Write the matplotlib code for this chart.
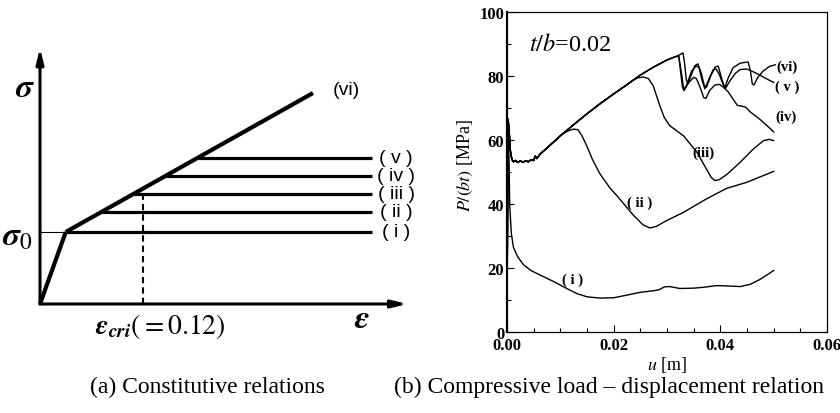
import numpy as np
import matplotlib
matplotlib.use("Agg")
import matplotlib.pyplot as plt

plt.rcParams['font.family'] = ['Liberation Serif', 'DejaVu Serif']
plt.rcParams['mathtext.fontset'] = 'stix'

# ---- (a) constitutive relations (schematic units: sigma / sigma0) ----
eps_y = 0.030
eps_cri = 0.12
eps_hard_end = 0.318
sig_hard_end = 2.93
eps_plateau_end = 0.387
plateau_sig = [1.0, 1.28, 1.53, 1.78, 2.03]
plateau_lbl = ['( i )', '( ii )', '( iii )', '( iv )', '( v )']

# ---- (b) compressive load - displacement, t/b = 0.02 ----
u_common = [0.0, 0.0001, 0.0002, 0.0004, 0.0006, 0.0009, 0.0012, 0.0016, 0.0020, 0.0025,
            0.0030, 0.0035, 0.0040, 0.0045, 0.0050, 0.0053, 0.0056, 0.0062, 0.0075, 0.0100]
p_common = [0.0, 40.0, 66.5, 63.0, 57.0, 54.0, 53.2, 53.6, 53.0, 53.5,
            53.0, 53.5, 53.2, 53.8, 53.6, 55.0, 54.2, 55.6, 57.5, 61.3]
u_rise = [0.0125, 0.0150, 0.0175, 0.0200, 0.0225, 0.0235, 0.0250, 0.0275, 0.0300, 0.0315]
p_rise = [64.8, 68.2, 71.4, 74.4, 77.3, 78.5, 80.3, 82.8, 85.0, 86.0]

u_1 = [0.0, 0.0002, 0.0004, 0.0005, 0.0008, 0.0012, 0.0020, 0.0031, 0.0045, 0.0062, 0.0087,
       0.0112, 0.0131, 0.0150, 0.0174, 0.0200, 0.0224, 0.0250, 0.0275, 0.0285, 0.0295,
       0.0305, 0.0324, 0.0350, 0.0370, 0.0393, 0.0412, 0.0437, 0.0456, 0.0474, 0.0500]
p_1 = [0.0, 66.0, 52.0, 40.0, 31.0, 26.5, 23.5, 21.0, 19.2, 17.8, 15.8,
       13.6, 12.0, 11.0, 10.6, 10.7, 11.5, 12.4, 12.9, 13.2, 14.1,
       14.2, 13.6, 13.7, 14.0, 14.5, 14.4, 14.2, 14.9, 16.4, 19.2]

u_2 = [0.0105, 0.0115, 0.0125, 0.0133, 0.0140, 0.0150, 0.0160, 0.0174, 0.0193, 0.0206,
       0.0237, 0.0255, 0.0268, 0.0280, 0.0299, 0.0331, 0.0374, 0.0412, 0.0450, 0.0500]
p_2 = [62.0, 62.9, 63.4, 63.2, 61.5, 58.0, 54.0, 49.5, 45.0, 42.6,
       36.5, 33.5, 32.5, 33.0, 34.8, 37.4, 41.6, 44.9, 46.8, 50.2]

u_3 = [0.0245, 0.0255, 0.0265, 0.0274, 0.0280, 0.0287, 0.0295, 0.0305, 0.0331, 0.0356,
       0.0374, 0.0383, 0.0390, 0.0398, 0.0412, 0.0437, 0.0462, 0.0481, 0.0492, 0.0500]
p_3 = [79.4, 79.7, 79.2, 77.0, 74.0, 70.5, 67.0, 64.5, 61.3, 56.2,
       50.9, 48.3, 47.3, 47.6, 49.2, 53.0, 57.2, 59.8, 60.2, 59.8]

u_4 = [0.0322, 0.0325, 0.0329, 0.0332, 0.0340, 0.0350, 0.0355, 0.0362, 0.0369, 0.0373,
       0.0380, 0.0390, 0.0398, 0.0405, 0.0415, 0.0425, 0.0432, 0.0440, 0.0448, 0.0456,
       0.0466, 0.0474, 0.0484, 0.0492, 0.0500]
p_4 = [86.2, 82.0, 76.5, 75.4, 77.8, 79.6, 79.2, 76.5, 73.2, 73.0,
       75.5, 77.2, 77.4, 76.6, 75.0, 72.5, 70.8, 70.6, 70.2, 68.8,
       67.5, 66.5, 65.0, 63.8, 62.5]

u_5 = [0.0322, 0.0328, 0.0331, 0.0336, 0.0346, 0.0355, 0.0360, 0.0366, 0.0371, 0.0378,
       0.0386, 0.0392, 0.0398, 0.0405, 0.0410, 0.0418, 0.0428, 0.0437, 0.0449, 0.0462,
       0.0475, 0.0488, 0.0500]
p_5 = [86.2, 80.0, 76.0, 76.8, 81.5, 83.2, 82.6, 78.5, 76.0, 78.8,
       81.8, 82.2, 80.5, 77.5, 76.2, 78.5, 80.8, 82.0, 82.2, 81.3,
       80.2, 79.0, 78.0]

u_6 = [0.0322, 0.0330, 0.0333, 0.0336, 0.0339, 0.0346, 0.0352, 0.0358, 0.0364, 0.0370,
       0.0374, 0.0382, 0.0390, 0.0396, 0.0402, 0.0408, 0.0415, 0.0424, 0.0437, 0.0452,
       0.0456, 0.0460, 0.0463, 0.0470, 0.0480, 0.0492, 0.0503]
p_6 = [86.5, 87.2, 84.0, 79.0, 77.5, 80.5, 83.2, 83.8, 81.0, 77.0,
       76.5, 80.0, 82.8, 83.1, 79.5, 76.2, 79.5, 82.6, 84.0, 84.4,
       82.0, 77.5, 77.2, 79.5, 81.5, 83.0, 83.5]

curve_lbl = ['( i )', '( ii )', '(iii)', '(iv)', '( v )', '(vi)']
lbl_u = [0.0122, 0.0249, 0.0368, 0.0523, 0.0525, 0.0525]
lbl_p = [16.6, 40.6, 56.3, 67.5, 76.9, 83.1]

fig = plt.figure(figsize=(8.4, 4.14), dpi=100)

# ---------------- left panel ----------------
ax1 = fig.add_axes([0, 0, 0.5, 1])
ax1.set_xlim(-0.0466, 0.4427)
ax1.set_ylim(-1.514, 4.236)
ax1.axis('off')

ax1.annotate('', xy=(0.428, 0), xytext=(0, 0),
             arrowprops=dict(arrowstyle='-|>,head_length=0.9,head_width=0.22', lw=2.2, color='k',
                             shrinkA=0, shrinkB=0))
ax1.annotate('', xy=(0, 3.556), xytext=(0, 0),
             arrowprops=dict(arrowstyle='-|>,head_length=0.9,head_width=0.22', lw=2.2, color='k',
                             shrinkA=0, shrinkB=0))

slope = (sig_hard_end - 1.0) / (eps_hard_end - eps_y)
ax1.plot([0, eps_y], [0, 1.0], color='k', lw=3.0, solid_capstyle='butt')
ax1.plot([0, eps_y], [1.0, 1.0], color='k', lw=0.8)
ax1.plot([eps_y, eps_hard_end], [1.0, sig_hard_end], color='k', lw=3.0, solid_capstyle='butt')
for s, lb in zip(plateau_sig, plateau_lbl):
    e0 = eps_y + (s - 1.0) / slope
    ax1.plot([e0, eps_plateau_end], [s, s], color='k', lw=2.3, solid_capstyle='butt')
    ax1.text(0.415, s, lb, family='Liberation Sans', fontsize=14, ha='center', va='center')
ax1.text(0.3565, sig_hard_end + 0.05, '(vi)', family='Liberation Sans', fontsize=14,
         ha='center', va='center')
sig_cri = 1.0 + slope * (eps_cri - eps_y)
ax1.plot([eps_cri, eps_cri], [0, sig_cri], color='k', lw=1.5, ls=(0, (3, 2)))

ax1.text(-0.017, 3.0, r'$\mathbfit{\sigma}$', fontsize=24, ha='center', va='center')
ax1.text(-0.026, 0.94, r'$\mathbfit{\sigma}_0$', fontsize=24, ha='center', va='center')
ax1.text(0.375, -0.2, r'$\mathbfit{\varepsilon}$', fontsize=24, ha='center', va='center')
ax1.text(0.14, -0.3, r'$\mathbfit{\varepsilon}_{\mathbfit{cri}}(=0.12)$', fontsize=20,
         ha='center', va='center')
ax1.text(207 / 420 * 0.4893 - 0.0466, -1.15, '(a) Constitutive relations', fontsize=17,
         ha='center', va='center')

# ---------------- right panel ----------------
ax2 = fig.add_axes([507 / 840, 81 / 414, 320 / 840, 320 / 414])
rise_u = u_common + u_rise
rise_p = p_common + p_rise
branches = [(u_2, p_2), (u_3, p_3), (u_4, p_4), (u_5, p_5), (u_6, p_6)]
ax2.plot(u_1, p_1, color='k', lw=1.0)
for bu, bp in branches:
    cu = [u for u in rise_u if u < bu[0]] + bu
    cp = [p for u, p in zip(rise_u, rise_p) if u < bu[0]] + bp
    ax2.plot(cu, cp, color='k', lw=1.0)

for lb, x, y in zip(curve_lbl, lbl_u, lbl_p):
    ax2.text(x, y, lb, fontsize=10.5, fontweight='bold', ha='center', va='center')
ax2.text(0.0042, 90, r'$t/b$=0.02', fontsize=17.5, ha='left', va='center')

ax2.set_xlim(0, 0.06)
ax2.set_ylim(0, 100)
ax2.set_xticks([0.00, 0.02, 0.04, 0.06])
ax2.set_xticklabels(['0.00', '0.02', '0.04', '0.06'])
ax2.set_xticks(np.arange(0, 0.0601, 0.005), minor=True)
ax2.set_yticks([0, 20, 40, 60, 80, 100])
ax2.set_yticks(np.arange(0, 101, 10), minor=True)
ax2.tick_params(which='both', direction='in', top=False, right=False, labelsize=12)
ax2.tick_params(axis='y', pad=2)
ax2.tick_params(axis='x', pad=3.5)
ax2.tick_params(which='major', length=5, width=0.8)
ax2.tick_params(which='minor', length=3, width=0.8)
for t in ax2.get_xticklabels() + ax2.get_yticklabels():
    t.set_fontweight('bold')
for sp in ax2.spines.values():
    sp.set_linewidth(0.9)
ax2.spines['left'].set_linewidth(1.6)
ax2.set_xlabel(r'$u$ [m]', fontsize=13, labelpad=1)
ax2.set_ylabel(r'$P/(bt)$ [MPa]', fontsize=13)
ax2.yaxis.set_label_coords(-0.1, 0.525)
fig.text(609 / 840, 1 - 387 / 414, '(b) Compressive load \u2013 displacement relation',
         fontsize=17, ha='center', va='center')

fig.savefig('out.png', dpi=100)
